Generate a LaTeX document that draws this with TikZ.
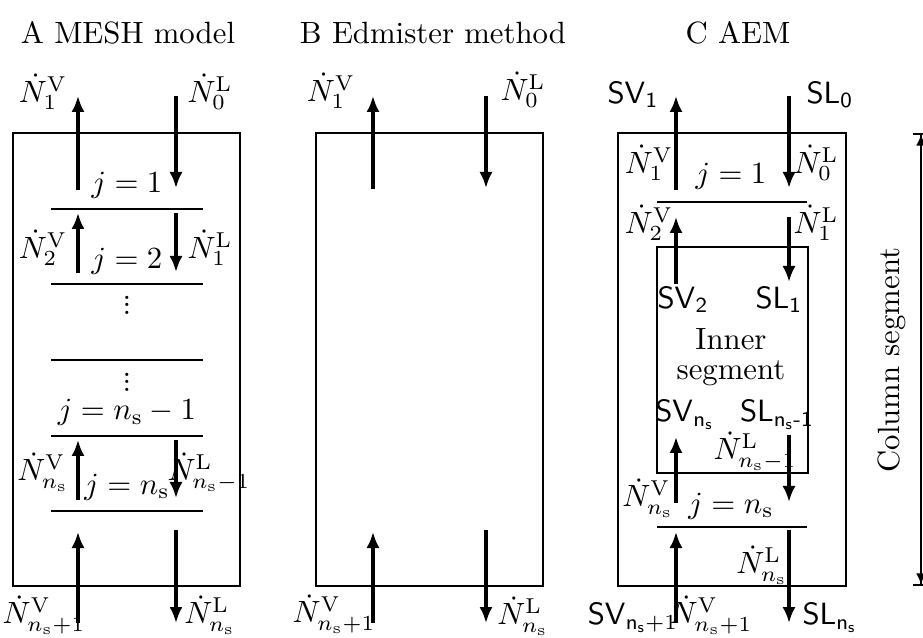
\documentclass[tikz,border=0pt]{standalone}
\usepackage{amsmath}
\usetikzlibrary{arrows.meta}
\newcommand{\NV}[1]{$\dot{N}^{\mathrm{V}}_{#1}$}
\newcommand{\NL}[1]{$\dot{N}^{\mathrm{L}}_{#1}$}
\newcommand{\nsub}{n_{\mathrm{s}}}
\newcommand{\sfns}{\mathsf{n}_{\mathsf{s}}}
\newcommand{\mydots}{\vbox{\baselineskip=2.4pt\lineskiplimit=0pt\hbox{.}\hbox{.}\hbox{.}}}
\begin{document}
\begin{tikzpicture}[x=0.325pt,y=-0.325pt,
  flow/.style={line width=1.05pt,-{Latex[length=5.2pt,width=4.3pt]}},
  stage/.style={line width=0.6pt},
  frame/.style={line width=0.6pt},
  lbl/.style={inner sep=0pt},
  ttl/.style={inner sep=0pt,anchor=base},
  dimarrow/.style={line width=0.5pt,{Bar[width=5pt]Latex[length=3.6pt,width=3.2pt]}-{Latex[length=3.6pt,width=3.2pt]Bar[width=5pt]}}]
\useasboundingbox (0,0) rectangle (923,638);

% ---------- Panel A ----------
\node[ttl] (tA) at (128,44) {A MESH model};
\coordinate (Ar1) at (13,133); \coordinate (Ar2) at (240,586);
\draw[frame] (Ar1) rectangle (Ar2);
% V arrows
\coordinate (Av1s) at (78,190); \coordinate (Av1e) at (78,96);
\coordinate (Av2s) at (78,273); \coordinate (Av2e) at (78,213);
\coordinate (Av3s) at (78,500); \coordinate (Av3e) at (78,440);
\coordinate (Av4s) at (78,623); \coordinate (Av4e) at (78,532);
\draw[flow] (Av1s) -- (Av1e);
\draw[flow] (Av2s) -- (Av2e);
\draw[flow] (Av3s) -- (Av3e);
\draw[flow] (Av4s) -- (Av4e);
% L arrows
\coordinate (Al1s) at (176,96);  \coordinate (Al1e) at (176,188);
\coordinate (Al2s) at (176,213); \coordinate (Al2e) at (176,272);
\coordinate (Al3s) at (176,440); \coordinate (Al3e) at (176,498);
\coordinate (Al4s) at (176,530); \coordinate (Al4e) at (176,623);
\draw[flow] (Al1s) -- (Al1e);
\draw[flow] (Al2s) -- (Al2e);
\draw[flow] (Al3s) -- (Al3e);
\draw[flow] (Al4s) -- (Al4e);
% stage lines
\foreach \i/\y in {1/209,2/284,3/360,4/436,5/511}{
  \coordinate (As\i a) at (51,\y); \coordinate (As\i b) at (203,\y);
  \draw[stage] (As\i a) -- (As\i b);
}
% labels
\node[lbl] (AN1V) at (43,92) {\NV{1}};
\node[lbl] (AN0L) at (210,92) {\NL{0}};
\node[ttl] (Aj1) at (127,193) {$j=1$};
\node[lbl] (AN2V) at (43,248) {\NV{2}};
\node[lbl] (AN1L) at (210,248) {\NL{1}};
\node[ttl] (Aj2) at (127,269) {$j=2$};
\node[lbl] (Ad1) at (127,305) {\mydots};
\node[lbl] (Ad2) at (127,382) {\mydots};
\node[ttl] (Aj3) at (127,420) {$j=\nsub-1$};
\node[lbl] (ANnsV) at (43,472) {\NV{\nsub}};
\node[lbl] (ANns1L) at (209,472) {\NL{\nsub-1}};
\node[ttl] (Aj4) at (127,494) {$j=\nsub$};
\node[lbl] (ANnsp1V) at (44,615) {\NV{\nsub+1}};
\node[lbl] (ANnsL) at (210,615) {\NL{\nsub}};

% ---------- Panel B ----------
\node[ttl] (tB) at (433,44) {B Edmister method};
\coordinate (Br1) at (316,133); \coordinate (Br2) at (543,586);
\draw[frame] (Br1) rectangle (Br2);
\coordinate (Bv1s) at (373,189); \coordinate (Bv1e) at (373,96);
\coordinate (Bv2s) at (373,623); \coordinate (Bv2e) at (373,532);
\coordinate (Bl1s) at (486,96);  \coordinate (Bl1e) at (486,188);
\coordinate (Bl2s) at (486,530); \coordinate (Bl2e) at (486,623);
\draw[flow] (Bv1s) -- (Bv1e);
\draw[flow] (Bv2s) -- (Bv2e);
\draw[flow] (Bl1s) -- (Bl1e);
\draw[flow] (Bl2s) -- (Bl2e);
\node[lbl] (BN1V) at (331,91) {\NV{1}};
\node[lbl] (BN0L) at (523,90) {\NL{0}};
\node[lbl] (BNnsp1V) at (334,614) {\NV{\nsub+1}};
\node[lbl] (BNnsL) at (523,616) {\NL{\nsub}};

% ---------- Panel C ----------
\node[ttl] (tC) at (738,44) {C AEM};
\coordinate (Cr1) at (618,133); \coordinate (Cr2) at (846,586);
\draw[frame] (Cr1) rectangle (Cr2);
\coordinate (Ci1) at (657,247); \coordinate (Ci2) at (808,473);
\draw[frame] (Ci1) rectangle (Ci2);
\coordinate (Cv1s) at (676,190); \coordinate (Cv1e) at (676,96);
\coordinate (Cv2s) at (676,284); \coordinate (Cv2e) at (676,217);
\coordinate (Cv3s) at (676,503); \coordinate (Cv3e) at (676,437);
\coordinate (Cv4s) at (676,623); \coordinate (Cv4e) at (676,532);
\draw[flow] (Cv1s) -- (Cv1e);
\draw[flow] (Cv2s) -- (Cv2e);
\draw[flow] (Cv3s) -- (Cv3e);
\draw[flow] (Cv4s) -- (Cv4e);
\coordinate (Cl1s) at (789,96);  \coordinate (Cl1e) at (789,188);
\coordinate (Cl2s) at (789,217); \coordinate (Cl2e) at (789,282);
\coordinate (Cl3s) at (789,435); \coordinate (Cl3e) at (789,502);
\coordinate (Cl4s) at (789,530); \coordinate (Cl4e) at (789,623);
\draw[flow] (Cl1s) -- (Cl1e);
\draw[flow] (Cl2s) -- (Cl2e);
\draw[flow] (Cl3s) -- (Cl3e);
\draw[flow] (Cl4s) -- (Cl4e);
\coordinate (Cs1a) at (657,202); \coordinate (Cs1b) at (807,202);
\coordinate (Cs2a) at (657,527); \coordinate (Cs2b) at (807,527);
\draw[stage] (Cs1a) -- (Cs1b);
\draw[stage] (Cs2a) -- (Cs2b);
\node[lbl] (CSV1) at (633,95) {$\mathsf{SV}_{\mathsf{1}}$};
\node[lbl] (CSL0) at (830,95) {$\mathsf{SL}_{\mathsf{0}}$};
\node[lbl] (CN1V) at (649,163) {\NV{1}};
\node[lbl] (CN0L) at (816,163) {\NL{0}};
\node[ttl] (Cj1) at (731,184) {$j=1$};
\node[lbl] (CN2V) at (649,223) {\NV{2}};
\node[lbl] (CN1L) at (816,223) {\NL{1}};
\node[lbl] (CSV2) at (683,300) {$\mathsf{SV}_{\mathsf{2}}$};
\node[lbl] (CSL1) at (779,300) {$\mathsf{SL}_{\mathsf{1}}$};
\node[lbl,align=center] (Cinner) at (731,357) {Inner\\[-2.3pt]segment};
\node[lbl] (CSVns) at (685,415) {$\mathsf{SV}_{\sfns}$};
\node[lbl] (CSLns1) at (777,415) {$\mathsf{SL}_{\sfns\textsf{-1}}$};
\node[lbl] (CNns1L) at (755,451) {\NL{\nsub-1}};
\node[lbl] (CNnsV) at (648,498) {\NV{\nsub}};
\node[ttl] (Cj2) at (731,513) {$j=\nsub$};
\node[lbl] (CNnsL) at (762,565) {\NL{\nsub}};
\node[lbl] (CSVnsp1) at (633,618) {$\mathsf{SV}_{\sfns+1}$};
\node[lbl] (CNnsp1V) at (711,615) {\NV{\nsub+1}};
\node[lbl] (CSLns) at (830,618) {$\mathsf{SL}_{\sfns}$};

% ---------- Column segment ----------
\coordinate (D1) at (921,133); \coordinate (D2) at (921,586);
\draw[dimarrow] (D1) -- (D2);
\node[lbl,rotate=90] (Dlab) at (892,360) {Column segment};
\end{tikzpicture}
\end{document}
